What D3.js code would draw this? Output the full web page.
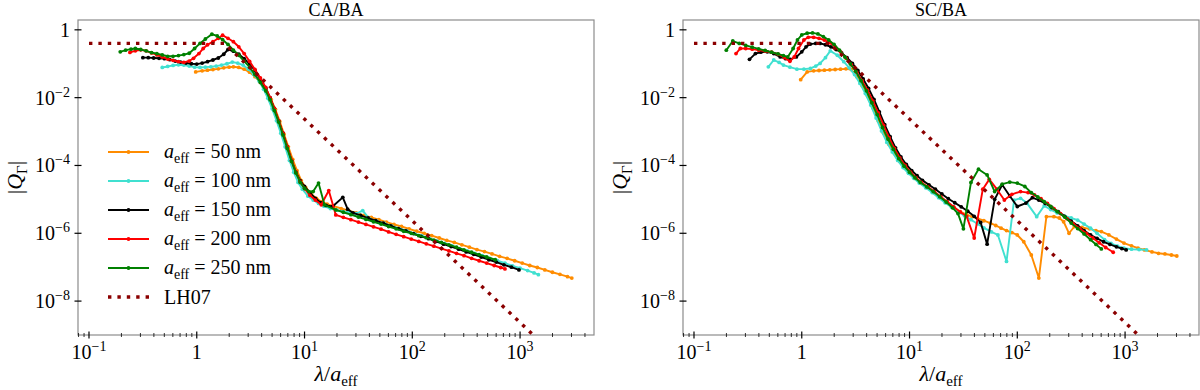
<!DOCTYPE html>
<html><head><meta charset="utf-8">
<script src="https://cdn.jsdelivr.net/npm/d3@7"></script>
<style>body{margin:0;background:#fff}svg{display:block}svg text{font-family:"Liberation Serif","DejaVu Serif",serif;}</style>
</head><body><svg id="chart" width="1200" height="390"></svg>
<script>
// ---------- DATA (log10 of lambda/a_eff, log10 of |Q_Gamma|) ----------
const panelTitles = ["CA/BA", "SC/BA"];
const seriesLabels = ["50", "100", "150", "200", "250"];
const seriesColors = ["#ff8c00", "#40e0d0", "#000000", "#ff0000", "#008000"];
const xTickValues = [0.1, 1, 10, 100, 1000];
const xTickLabels = [["10", "−1"], ["1", ""], ["10", "1"], ["10", "2"], ["10", "3"]];
const yTickValues = [1, 1e-2, 1e-4, 1e-6, 1e-8];
const yTickLabels = [["1", ""], ["10", "−2"], ["10", "−4"], ["10", "−6"], ["10", "−8"]];
// LH07 model line (lambda/a_eff, |Q|)
const lh07X = [0.1, 1.8, 2000];
const lh07Y = [0.4, 0.4, 2.92e-10];

// CA/BA panel
const caOrange = [[-0.01,-1.24],[0.05,-1.21],[0.1,-1.19],[0.15,-1.17],[0.2,-1.15],[0.25,-1.12],[0.3,-1.10],[0.34,-1.09],[0.39,-1.11],[0.44,-1.16],[0.49,-1.25],[0.54,-1.38],[0.59,-1.55],[0.64,-1.78],[0.69,-2.05],[0.73,-2.35],[0.77,-2.7],[0.81,-3.08],[0.85,-3.45],[0.89,-3.82],[0.93,-4.15],[0.97,-4.45],[1.01,-4.65],[1.06,-4.83],[1.11,-4.97],[1.16,-5.07],[1.21,-5.14],[1.27,-5.20],[1.34,-5.27],[1.41,-5.33],[1.48,-5.40],[1.55,-5.47],[1.62,-5.53],[1.69,-5.60],[1.76,-5.67],[1.83,-5.74],[1.90,-5.80],[1.97,-5.87],[2.04,-5.94],[2.11,-6.00],[2.18,-6.07],[2.25,-6.14],[2.32,-6.21],[2.39,-6.27],[2.46,-6.34],[2.53,-6.41],[2.60,-6.48],[2.67,-6.54],[2.74,-6.61],[2.81,-6.68],[2.88,-6.74],[2.95,-6.81],[3.02,-6.88],[3.09,-6.95],[3.16,-7.01],[3.23,-7.08],[3.30,-7.15],[3.37,-7.21],[3.44,-7.28],[3.48,-7.32]];
const caCyan = [[-0.32,-1.11],[-0.27,-1.08],[-0.22,-1.05],[-0.17,-1.03],[-0.12,-1.04],[-0.07,-1.07],[-0.02,-1.10],[0.03,-1.11],[0.08,-1.10],[0.13,-1.09],[0.18,-1.07],[0.23,-1.04],[0.28,-1.0],[0.33,-0.95],[0.38,-0.98],[0.43,-1.04],[0.48,-1.16],[0.53,-1.32],[0.58,-1.52],[0.62,-1.75],[0.66,-2.02],[0.70,-2.33],[0.74,-2.68],[0.78,-3.05],[0.82,-3.45],[0.86,-3.85],[0.9,-4.2],[0.94,-4.5],[0.98,-4.7],[1.03,-4.9],[1.08,-5.02],[1.13,-5.12],[1.18,-5.2],[1.24,-5.27],[1.3,-5.32],[1.36,-5.36],[1.42,-5.38],[1.48,-5.42],[1.54,-5.33],[1.6,-5.57],[1.67,-5.64],[1.74,-5.71],[1.81,-5.79],[1.88,-5.86],[1.95,-5.93],[2.02,-6.01],[2.09,-6.08],[2.16,-6.15],[2.23,-6.23],[2.30,-6.30],[2.37,-6.37],[2.44,-6.45],[2.51,-6.52],[2.58,-6.59],[2.65,-6.66],[2.72,-6.74],[2.79,-6.81],[2.86,-6.88],[2.93,-6.96],[3.00,-7.03],[3.07,-7.10],[3.13,-7.17],[3.17,-7.22]];
const caBlack = [[-0.5,-0.82],[-0.45,-0.82],[-0.4,-0.83],[-0.35,-0.84],[-0.3,-0.85],[-0.25,-0.88],[-0.2,-0.92],[-0.15,-0.95],[-0.1,-0.98],[-0.05,-1.0],[0.0,-1.01],[0.05,-0.98],[0.1,-0.94],[0.15,-0.89],[0.2,-0.83],[0.25,-0.72],[0.29,-0.58],[0.34,-0.63],[0.39,-0.72],[0.44,-0.85],[0.49,-1.0],[0.54,-1.2],[0.59,-1.45],[0.64,-1.72],[0.68,-2.0],[0.72,-2.32],[0.76,-2.68],[0.8,-3.05],[0.84,-3.45],[0.88,-3.85],[0.92,-4.2],[0.96,-4.45],[1.0,-4.62],[1.05,-4.8],[1.1,-4.97],[1.15,-5.1],[1.2,-5.18],[1.26,-5.21],[1.355,-4.94],[1.40,-5.29],[1.45,-5.40],[1.52,-5.47],[1.59,-5.55],[1.66,-5.63],[1.73,-5.70],[1.80,-5.78],[1.87,-5.86],[1.94,-5.93],[2.01,-6.01],[2.08,-6.09],[2.15,-6.16],[2.22,-6.24],[2.29,-6.32],[2.36,-6.39],[2.43,-6.47],[2.50,-6.55],[2.57,-6.62],[2.64,-6.70],[2.71,-6.78],[2.78,-6.85],[2.85,-6.93],[2.92,-7.00],[2.99,-7.08]];
const caRed = [[-0.62,-0.667],[-0.57,-0.62],[-0.52,-0.59],[-0.47,-0.62],[-0.42,-0.68],[-0.37,-0.74],[-0.32,-0.8],[-0.27,-0.86],[-0.22,-0.9],[-0.17,-0.94],[-0.12,-0.96],[-0.07,-0.92],[-0.03,-0.84],[0.02,-0.7],[0.06,-0.55],[0.1,-0.44],[0.15,-0.35],[0.2,-0.25],[0.24,-0.16],[0.29,-0.25],[0.34,-0.35],[0.39,-0.5],[0.44,-0.7],[0.49,-0.93],[0.54,-1.17],[0.59,-1.42],[0.64,-1.7],[0.68,-2.0],[0.72,-2.32],[0.76,-2.68],[0.8,-3.05],[0.84,-3.45],[0.88,-3.85],[0.92,-4.2],[0.96,-4.48],[1.0,-4.68],[1.05,-4.88],[1.1,-5.02],[1.155,-5.16],[1.225,-4.74],[1.29,-5.46],[1.36,-5.53],[1.43,-5.60],[1.50,-5.67],[1.57,-5.74],[1.64,-5.81],[1.71,-5.88],[1.78,-5.96],[1.85,-6.03],[1.92,-6.10],[1.99,-6.17],[2.06,-6.24],[2.13,-6.31],[2.20,-6.38],[2.27,-6.45],[2.34,-6.52],[2.41,-6.59],[2.48,-6.66],[2.55,-6.74],[2.62,-6.81],[2.69,-6.88],[2.76,-6.95],[2.82,-7.01],[2.86,-7.05]];
const caGreen = [[-0.71,-0.65],[-0.66,-0.6],[-0.61,-0.57],[-0.57,-0.55],[-0.52,-0.58],[-0.47,-0.62],[-0.42,-0.67],[-0.37,-0.7],[-0.32,-0.74],[-0.27,-0.78],[-0.22,-0.78],[-0.17,-0.76],[-0.12,-0.73],[-0.07,-0.69],[-0.02,-0.55],[0.03,-0.40],[0.08,-0.27],[0.14,-0.13],[0.19,-0.18],[0.24,-0.29],[0.29,-0.43],[0.34,-0.6],[0.39,-0.75],[0.44,-0.92],[0.49,-1.1],[0.54,-1.32],[0.59,-1.55],[0.64,-1.8],[0.68,-2.06],[0.72,-2.38],[0.76,-2.72],[0.8,-3.1],[0.84,-3.5],[0.88,-3.88],[0.92,-4.22],[0.96,-4.5],[1.0,-4.68],[1.04,-4.77],[1.08,-4.77],[1.13,-4.52],[1.185,-5.16],[1.29,-5.31],[1.36,-5.38],[1.43,-5.45],[1.50,-5.52],[1.57,-5.59],[1.64,-5.66],[1.71,-5.73],[1.78,-5.80],[1.85,-5.87],[1.92,-5.94],[1.99,-6.00],[2.06,-6.07],[2.13,-6.13],[2.20,-6.20],[2.27,-6.27],[2.34,-6.34],[2.41,-6.41],[2.48,-6.49],[2.55,-6.56],[2.62,-6.63],[2.69,-6.70],[2.77,-6.78]];

// SC/BA panel
const scOrange = [[-0.01,-1.47],[0.05,-1.24],[0.11,-1.21],[0.16,-1.2],[0.21,-1.19],[0.26,-1.18],[0.31,-1.17],[0.36,-1.16],[0.41,-1.15],[0.46,-1.17],[0.51,-1.38],[0.56,-1.65],[0.61,-1.95],[0.66,-2.3],[0.71,-2.68],[0.76,-3.05],[0.81,-3.38],[0.86,-3.65],[0.91,-3.88],[0.96,-4.08],[1.01,-4.24],[1.06,-4.39],[1.11,-4.52],[1.17,-4.66],[1.23,-4.8],[1.29,-4.95],[1.35,-5.1],[1.41,-5.24],[1.47,-5.36],[1.53,-5.45],[1.58,-5.51],[1.63,-5.56],[1.69,-5.63],[1.75,-5.70],[1.8,-5.77],[1.85,-5.85],[1.9,-5.92],[1.95,-5.98],[2.0,-6.05],[2.06,-6.25],[2.13,-6.64],[2.2,-7.32],[2.27,-5.51],[2.34,-5.51],[2.39,-5.55],[2.43,-5.66],[2.48,-6.0],[2.53,-5.80],[2.6,-5.83],[2.67,-5.87],[2.73,-5.92],[2.78,-5.95],[2.85,-6.05],[2.92,-6.17],[2.99,-6.29],[3.06,-6.37],[3.12,-6.44],[3.18,-6.49],[3.25,-6.55],[3.31,-6.59],[3.37,-6.61],[3.43,-6.64],[3.48,-6.67]];
const scCyan = [[-0.31,-1.09],[-0.26,-0.89],[-0.21,-0.96],[-0.17,-1.04],[-0.11,-1.1],[-0.045,-1.16],[0.02,-1.16],[0.08,-1.14],[0.13,-1.07],[0.17,-0.99],[0.22,-0.82],[0.265,-0.62],[0.33,-0.75],[0.39,-0.94],[0.44,-1.12],[0.49,-1.32],[0.54,-1.58],[0.59,-1.88],[0.64,-2.22],[0.69,-2.6],[0.74,-2.98],[0.79,-3.32],[0.84,-3.6],[0.89,-3.85],[0.94,-4.06],[0.99,-4.23],[1.04,-4.38],[1.09,-4.52],[1.15,-4.66],[1.21,-4.8],[1.27,-4.95],[1.33,-5.1],[1.39,-5.23],[1.45,-5.36],[1.51,-5.48],[1.57,-5.6],[1.63,-5.72],[1.69,-5.84],[1.76,-5.96],[1.82,-6.05],[1.9,-6.83],[1.97,-5.02],[2.03,-4.97],[2.09,-5.11],[2.18,-5.51],[2.25,-5.19],[2.31,-5.3],[2.37,-5.4],[2.43,-5.48],[2.5,-5.55],[2.56,-5.61],[2.62,-5.73],[2.68,-5.85],[2.74,-6.0],[2.81,-6.19],[2.87,-6.3],[2.93,-6.38],[2.99,-6.44],[3.06,-6.47],[3.13,-6.48],[3.2,-6.49]];
const scBlack = [[-0.485,-0.87],[-0.43,-0.70],[-0.38,-0.66],[-0.32,-0.65],[-0.26,-0.7],[-0.2,-0.8],[-0.15,-0.85],[-0.107,-0.87],[-0.05,-0.8],[0.0,-0.65],[0.04,-0.5],[0.08,-0.42],[0.13,-0.4],[0.17,-0.4],[0.22,-0.44],[0.27,-0.5],[0.32,-0.58],[0.37,-0.68],[0.42,-0.82],[0.47,-0.99],[0.52,-1.2],[0.57,-1.45],[0.62,-1.73],[0.67,-2.05],[0.72,-2.42],[0.77,-2.8],[0.82,-3.15],[0.87,-3.48],[0.92,-3.75],[0.97,-3.97],[1.02,-4.15],[1.07,-4.3],[1.12,-4.44],[1.18,-4.57],[1.24,-4.7],[1.3,-4.84],[1.36,-4.98],[1.42,-5.1],[1.48,-5.22],[1.54,-5.35],[1.6,-5.5],[1.66,-5.68],[1.72,-6.32],[1.79,-5.0],[1.86,-4.57],[1.93,-4.9],[2.0,-5.21],[2.08,-5.11],[2.14,-4.95],[2.2,-5.02],[2.26,-5.12],[2.32,-5.24],[2.38,-5.36],[2.44,-5.5],[2.5,-5.64],[2.56,-5.78],[2.62,-5.92],[2.68,-6.05],[2.74,-6.15],[2.8,-6.25],[2.86,-6.33],[2.92,-6.4],[2.97,-6.45],[3.01,-6.49]];
const scRed = [[-0.61,-0.70],[-0.57,-0.55],[-0.52,-0.55],[-0.46,-0.57],[-0.4,-0.6],[-0.34,-0.63],[-0.28,-0.66],[-0.22,-0.72],[-0.16,-0.82],[-0.11,-0.93],[-0.07,-0.8],[-0.03,-0.55],[0.02,-0.3],[0.06,-0.22],[0.11,-0.22],[0.16,-0.25],[0.21,-0.3],[0.26,-0.38],[0.31,-0.5],[0.36,-0.65],[0.41,-0.83],[0.46,-1.03],[0.51,-1.25],[0.56,-1.5],[0.61,-1.78],[0.66,-2.1],[0.71,-2.45],[0.76,-2.82],[0.81,-3.18],[0.86,-3.5],[0.91,-3.78],[0.96,-4.0],[1.01,-4.2],[1.06,-4.36],[1.11,-4.5],[1.17,-4.63],[1.23,-4.77],[1.29,-4.92],[1.35,-5.07],[1.41,-5.22],[1.47,-5.37],[1.53,-5.5],[1.6,-6.14],[1.68,-4.7],[1.74,-4.41],[1.81,-4.7],[1.88,-5.02],[1.95,-4.85],[2.03,-4.77],[2.1,-4.8],[2.16,-4.87],[2.22,-4.98],[2.28,-5.12],[2.34,-5.27],[2.4,-5.42],[2.46,-5.57],[2.52,-5.72],[2.58,-5.86],[2.64,-6.0],[2.7,-6.14],[2.76,-6.28],[2.82,-6.42],[2.89,-6.56]];
const scGreen = [[-0.70,-0.60],[-0.64,-0.33],[-0.58,-0.40],[-0.52,-0.46],[-0.46,-0.51],[-0.40,-0.56],[-0.34,-0.61],[-0.28,-0.66],[-0.22,-0.71],[-0.17,-0.76],[-0.13,-0.80],[-0.08,-0.55],[-0.04,-0.3],[0.0,-0.15],[0.05,-0.1],[0.1,-0.09],[0.15,-0.12],[0.2,-0.2],[0.25,-0.3],[0.3,-0.43],[0.35,-0.6],[0.4,-0.8],[0.45,-1.0],[0.5,-1.22],[0.55,-1.5],[0.6,-1.8],[0.65,-2.15],[0.7,-2.5],[0.75,-2.88],[0.8,-3.22],[0.85,-3.52],[0.9,-3.8],[0.95,-4.02],[1.0,-4.2],[1.05,-4.36],[1.1,-4.5],[1.16,-4.63],[1.22,-4.77],[1.28,-4.92],[1.34,-5.08],[1.4,-5.25],[1.45,-5.42],[1.5,-5.87],[1.57,-4.5],[1.64,-4.11],[1.72,-4.28],[1.79,-4.77],[1.86,-4.55],[1.93,-4.49],[2.0,-4.52],[2.07,-4.62],[2.13,-4.8],[2.19,-4.93],[2.25,-5.07],[2.31,-5.21],[2.37,-5.36],[2.44,-5.52],[2.5,-5.7],[2.56,-5.86],[2.62,-6.02],[2.68,-6.19],[2.73,-6.33],[2.78,-6.46]];

const panelSeries = [
  [caOrange, caCyan, caBlack, caRed, caGreen],
  [scOrange, scCyan, scBlack, scRed, scGreen]
];

// ---------- LAYOUT ----------
const svg = d3.select("#chart");
const panels = [{x0: 78, x1: 594}, {x0: 683, x1: 1199}];
const yTop = 20, yBot = 335;
const lh07Color = "#8b0000";

function tenPow(text, base, sup, supSize) {
  text.append("tspan").text(base);
  if (sup) text.append("tspan").attr("font-size", supSize).attr("dy", -8).text(sup);
}

panels.forEach((p, pi) => {
  const x = d3.scaleLog().domain([Math.pow(10, -1.102), Math.pow(10, 3.686)]).range([p.x0, p.x1]);
  const y = d3.scaleLog().domain([1e-9, Math.pow(10, 0.29)]).range([yBot, yTop]);
  const g = svg.append("g");
  const clipId = "clip" + pi;
  svg.append("clipPath").attr("id", clipId).append("rect")
    .attr("x", p.x0).attr("y", yTop).attr("width", p.x1 - p.x0).attr("height", yBot - yTop);

  // frame
  g.append("rect").attr("x", p.x0).attr("y", yTop).attr("width", p.x1 - p.x0).attr("height", yBot - yTop)
    .attr("fill", "none").attr("stroke", "#8c8c8c").attr("stroke-width", 1.2);

  // x minor ticks
  const minor = [];
  for (let e = -2; e <= 3; e++) for (let m = 2; m <= 9; m++) {
    const v = m * Math.pow(10, e);
    if (x(v) > p.x0 + 0.5 && x(v) < p.x1 - 0.5) minor.push(v);
  }
  g.selectAll(".mx").data(minor).enter().append("line")
    .attr("x1", d => x(d)).attr("x2", d => x(d)).attr("y1", yBot - 2).attr("y2", yBot + 2)
    .attr("stroke", "#000").attr("stroke-width", 0.8);
  // x major ticks
  g.selectAll(".Mx").data(xTickValues).enter().append("line")
    .attr("x1", d => x(d)).attr("x2", d => x(d)).attr("y1", yBot - 3.5).attr("y2", yBot + 3.5)
    .attr("stroke", "#000").attr("stroke-width", 1.2);
  xTickValues.forEach((v, i) => {
    const t = g.append("text").attr("x", x(v)).attr("y", 359).attr("text-anchor", "middle")
      .attr("font-size", 20).attr("fill", "#000");
    tenPow(t, xTickLabels[i][0], xTickLabels[i][1], 14);
  });
  // y ticks
  g.selectAll(".My").data(yTickValues).enter().append("line")
    .attr("x1", p.x0 - 3.5).attr("x2", p.x0 + 3.5).attr("y1", d => y(d)).attr("y2", d => y(d))
    .attr("stroke", "#000").attr("stroke-width", 1.2);
  yTickValues.forEach((v, i) => {
    const lab = yTickLabels[i];
    const t = g.append("text").attr("x", p.x0 - 8).attr("y", y(v) + 7).attr("text-anchor", "end")
      .attr("font-size", 20).attr("fill", "#000");
    tenPow(t, lab[0], lab[1], 14);
  });

  // title
  g.append("text").attr("x", (p.x0 + p.x1) / 2).attr("y", 16).attr("text-anchor", "middle")
    .attr("font-size", 18).text(panelTitles[pi]);
  // x label
  const xl = g.append("text").attr("x", (p.x0 + p.x1) / 2).attr("y", 381).attr("text-anchor", "middle")
    .attr("font-size", 22);
  xl.append("tspan").attr("font-style", "italic").text("λ");
  xl.append("tspan").text("/");
  xl.append("tspan").attr("font-style", "italic").text("a");
  xl.append("tspan").attr("font-size", 15).attr("dy", 5).text("eff");
  // y label
  const yl = g.append("text").attr("transform", `translate(${p.x0 - 56},${(yTop + yBot) / 2}) rotate(-90)`)
    .attr("text-anchor", "middle").attr("font-size", 22);
  yl.append("tspan").text("|");
  yl.append("tspan").attr("font-style", "italic").text("Q");
  yl.append("tspan").attr("font-size", 15).attr("dy", 5).text("Γ");
  yl.append("tspan").attr("dy", -5).text("|");

  // series
  const line = d3.line().x(d => x(d[0])).y(d => y(d[1]));
  const plot = g.append("g").attr("clip-path", `url(#${clipId})`);
  panelSeries[pi].forEach((arr, si) => {
    const pts = arr.map(([lx, ly]) => [Math.pow(10, lx), Math.pow(10, ly)]);
    plot.append("path").datum(pts).attr("d", line).attr("fill", "none")
      .attr("stroke", seriesColors[si]).attr("stroke-width", 1.9).attr("stroke-linejoin", "round");
    plot.selectAll(null).data(pts).enter().append("circle")
      .attr("cx", d => x(d[0])).attr("cy", d => y(d[1])).attr("r", 1.9).attr("fill", seriesColors[si]);
  });
  // LH07
  const lhPts = lh07X.map((v, i) => [v, lh07Y[i]]);
  plot.append("path").datum(lhPts).attr("d", line).attr("fill", "none")
    .attr("stroke", lh07Color).attr("stroke-width", 3.4).attr("stroke-dasharray", "3.4,6");

  // legend (left panel only)
  if (pi === 0) {
    const lg = g.append("g");
    const ly0 = 152, dy = 29;
    seriesLabels.forEach((lab, i) => {
      const yy = ly0 + i * dy;
      lg.append("line").attr("x1", 108).attr("x2", 149).attr("y1", yy).attr("y2", yy)
        .attr("stroke", seriesColors[i]).attr("stroke-width", 1.9);
      lg.append("circle").attr("cx", 128.5).attr("cy", yy).attr("r", 1.9).attr("fill", seriesColors[i]);
      const t = lg.append("text").attr("x", 164).attr("y", yy + 6).attr("font-size", 20);
      t.append("tspan").attr("font-style", "italic").text("a");
      t.append("tspan").attr("font-size", 14).attr("dy", 5).text("eff");
      t.append("tspan").attr("dy", -5).text(" = " + lab + " nm");
    });
    const yy = ly0 + 5 * dy;
    lg.append("line").attr("x1", 108).attr("x2", 149).attr("y1", yy).attr("y2", yy)
      .attr("stroke", lh07Color).attr("stroke-width", 3.4).attr("stroke-dasharray", "3.4,6");
    lg.append("text").attr("x", 164).attr("y", yy + 7).attr("font-size", 20).text("LH07");
  }
});
</script></body></html>
